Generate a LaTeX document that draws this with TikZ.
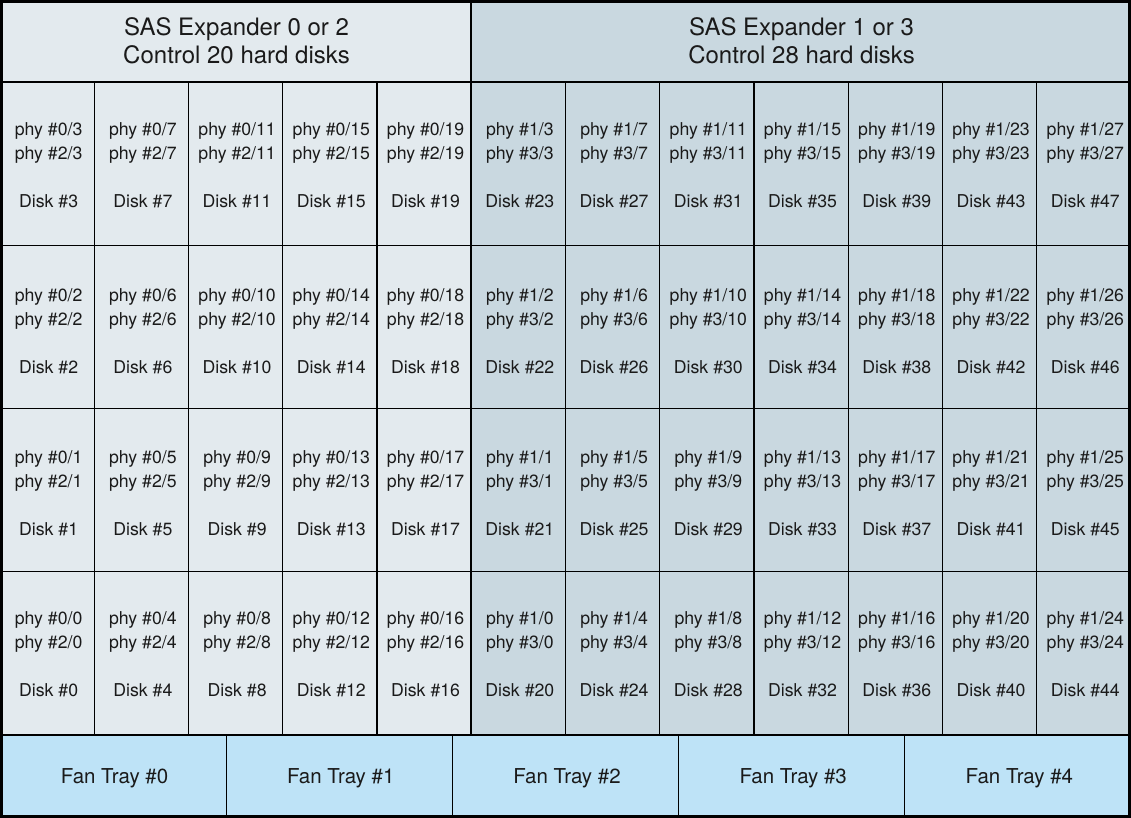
\documentclass[tikz,border=0pt]{standalone}
\usepackage{fontspec}
\setmainfont{TeX Gyre Heros}
\definecolor{leftfill}{HTML}{E3EAEE}
\definecolor{rightfill}{HTML}{C9D8E0}
\definecolor{fanfill}{HTML}{BEE3F7}
\definecolor{txt}{HTML}{1A1A1A}
\begin{document}
\begin{tikzpicture}[x=1pt,y=-1pt,
  cellbox/.style={draw=black, line width=1.2pt, minimum width=94.25pt, minimum height=163.25pt, inner sep=0pt, outer sep=0pt, anchor=north west},
  hdrbox/.style={draw=black, line width=1.7pt, minimum height=82pt, inner sep=0pt, outer sep=0pt, anchor=north west},
  fanbox/.style={draw=black, line width=1.2pt, fill=fanfill, minimum width=226.2pt, minimum height=83pt, inner sep=0pt, outer sep=0pt, anchor=north west},
  celltext/.style={anchor=base, inner sep=0pt, text=txt, font=\fontsize{17.7}{21}\selectfont},
  hdrtext/.style={anchor=base, inner sep=0pt, text=txt, font=\fontsize{24}{28}\selectfont},
  fantext/.style={anchor=base, inner sep=0pt, text=txt, font=\fontsize{20.5}{24}\selectfont},
  thickline/.style={draw=black, line width=2.8pt}
]
\useasboundingbox (0,0) rectangle (1131,818);
% headers
\node[hdrbox, fill=leftfill, minimum width=471pt] (hdrL) at (0,0) {};
\node[hdrbox, fill=rightfill, minimum width=660pt] (hdrR) at (471,0) {};
\node[hdrtext] (hdrLa) at (236.5,36) {SAS Expander 0 or 2};
\node[hdrtext] (hdrLb) at (236.5,63.5) {Control 20 hard disks};
\node[hdrtext] (hdrRa) at (801.5,36) {SAS Expander 1 or 3};
\node[hdrtext] (hdrRb) at (801.5,63.5) {Control 28 hard disks};
% disk cells
\foreach \c in {0,...,11}{
  \foreach \r/\rs in {0/0,1/3,2/1.5,3/-0.5}{
    \pgfmathsetmacro{\xl}{\c*94.25}
    \pgfmathsetmacro{\yt}{82+\r*163.25}
    \pgfmathsetmacro{\xc}{\xl+48.6}
    \pgfmathsetmacro{\yc}{\yt+81.625+\rs}
    \ifnum\c<5
      \pgfmathtruncatemacro{\d}{4*\c+3-\r}
      \node[cellbox, fill=leftfill] (cell\d) at (\xl,\yt) {};
      \node[celltext] (pa\d) at (\xc,\yc-28.6) {phy \#0/\d};
      \node[celltext] (pb\d) at (\xc,\yc-4.6) {phy \#2/\d};
      \node[celltext] (dk\d) at (\xc,\yc+43.4) {Disk \#\d};
    \else
      \pgfmathtruncatemacro{\m}{4*(\c-5)+3-\r}
      \pgfmathtruncatemacro{\d}{\m+20}
      \node[cellbox, fill=rightfill] (cell\d) at (\xl,\yt) {};
      \node[celltext] (pa\d) at (\xc,\yc-28.6) {phy \#1/\m};
      \node[celltext] (pb\d) at (\xc,\yc-4.6) {phy \#3/\m};
      \node[celltext] (dk\d) at (\xc,\yc+43.4) {Disk \#\d};
    \fi
  }
}
% fan trays
\foreach \f in {0,...,4}{
  \pgfmathsetmacro{\xl}{\f*226.2}
  \node[fanbox] (fan\f) at (\xl,735) {};
  \node[fantext] (fant\f) at (\xl+114.6,783) {Fan Tray \#\f};
}
% thick lines
\coordinate (midtop) at (471,0);
\coordinate (midbot) at (471,735);
\coordinate (fanl) at (0,735);
\coordinate (fanr) at (1131,735);
\draw[thickline] (midtop) -- (midbot);
\draw[thickline] (fanl) -- (fanr);
\draw[thickline] (1.4,1.4) rectangle (1129.6,816.6);
\end{tikzpicture}
\end{document}
